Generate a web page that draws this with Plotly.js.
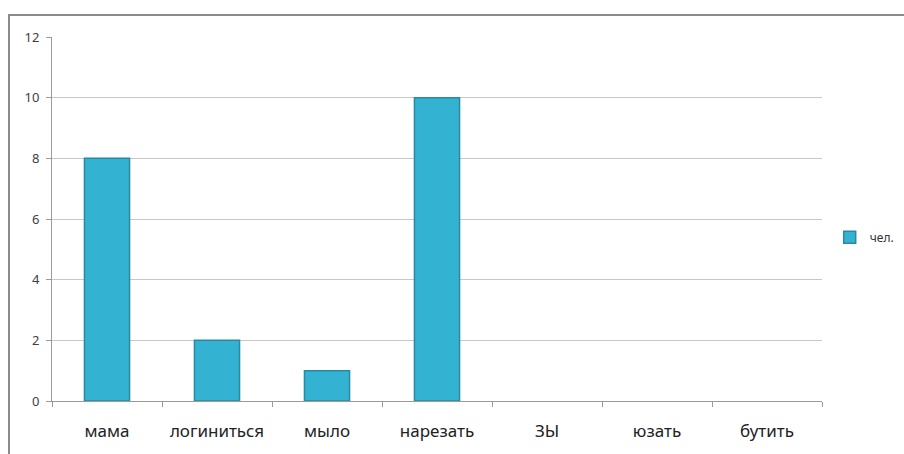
<!DOCTYPE html>
<html>
<head>
<meta charset="utf-8">
<script src="https://cdn.plot.ly/plotly-3.0.1.min.js"></script>
<style>
  html, body { margin: 0; padding: 0; background: #fff; }
  #chart { position: absolute; left: 0; top: 0; width: 904px; height: 454px; }
  #frame { position: absolute; left: 8px; top: 14px; width: 896px; height: 440px; pointer-events: none;
           border-left: 2px solid #8a8a8a; border-top: 2px solid #8a8a8a; box-sizing: border-box; }
</style>
</head>
<body>
<div id="chart"></div>
<div id="frame"></div>
<script>
const categories = ["мама", "логиниться", "мыло", "нарезать", "ЗЫ", "юзать", "бутить"];
const values = [8, 2, 1, 10, 0, 0, 0];
const seriesName = "чел.";
const yTicks = [0, 2, 4, 6, 8, 10, 12];

const trace = {
  type: "bar",
  x: categories,
  y: values,
  name: seriesName,
  showlegend: true,
  width: 0.41,
  marker: {
    color: "#34b2d2",
    line: { color: "#2a88a3", width: values.map(v => v > 0 ? 1.5 : 0) }
  },
  hoverinfo: "x+y"
};

const layout = {
  width: 904, height: 454,
  margin: { l: 52, r: 82, t: 37, b: 53, autoexpand: false },
  paper_bgcolor: "rgba(0,0,0,0)", plot_bgcolor: "rgba(0,0,0,0)",
  font: { family: "Noto Sans, Liberation Sans, sans-serif", color: "#333" },
  xaxis: {
    type: "category",
    showline: true, linecolor: "#9a9a9a", linewidth: 1,
    ticks: "outside", tickson: "boundaries", ticklen: 5, tickcolor: "#9a9a9a",
    tickfont: { size: 17, color: "#222" },
    ticklabelstandoff: 15,
    showgrid: false, zeroline: false
  },
  yaxis: {
    range: [0, 12], tickvals: yTicks,
    showline: true, linecolor: "#9a9a9a", linewidth: 1,
    ticks: "outside", ticklen: 5, tickcolor: "#9a9a9a",
    tickfont: { size: 13, color: "#404040" },
    ticklabelstandoff: 4,
    showgrid: true, gridcolor: "#c8c8c8", gridwidth: 1,
    zeroline: false
  },
  legend: {
    x: 1.01, y: 0.45, xanchor: "left", yanchor: "middle",
    font: { size: 12, color: "#333" },
    itemwidth: 30, tracegroupgap: 0
  }
};

Plotly.newPlot("chart", [trace], layout, { displayModeBar: false, staticPlot: true });
</script>
</body>
</html>
